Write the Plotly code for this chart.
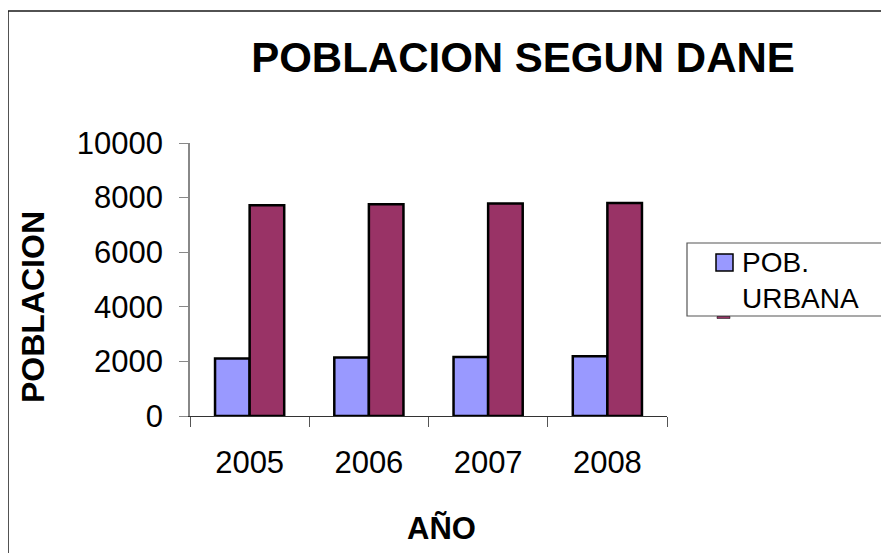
import plotly.graph_objects as go

# data
years = ["2005", "2006", "2007", "2008"]
pob_urbana = [2110, 2140, 2160, 2190]
pob_rural = [7720, 7755, 7780, 7805]
series_names = ["POB. URBANA", "POB. RURAL"]
y_ticks = [0, 2000, 4000, 6000, 8000, 10000]

BLUE = "#9999FF"
MAROON = "#993366"
FONT = "Liberation Sans, Arial, sans-serif"

W, H = 889, 553
OFF = 8  # page body margin shifts the figure by this much
# plot area in screen pixels
L, R, T, B = 190, 667, 143, 416


def px(x):
    return (x - L) / (R - L)


def py(y):
    return (B - y) / (B - T)


fig = go.Figure()
fig.add_trace(go.Bar(x=years, y=pob_urbana, name=series_names[0],
                     marker=dict(color=BLUE, line=dict(color="black", width=2.5))))
fig.add_trace(go.Bar(x=years, y=pob_rural, name=series_names[1],
                     marker=dict(color=MAROON, line=dict(color="black", width=2.5))))

fig.update_layout(
    width=W, height=H,
    margin=dict(l=L - OFF, r=W - (R - OFF), t=T - OFF, b=H - (B - OFF)),
    paper_bgcolor="white", plot_bgcolor="white",
    barmode="group", bargap=0.42, bargroupgap=0,
    showlegend=False,
    font=dict(family=FONT, color="black"),
    title=dict(text="<b>POBLACION SEGUN DANE</b>", font=dict(size=42, color="black"),
               x=(523 - OFF) / W, xanchor="center", y=1 - (57 - OFF) / H, yanchor="middle"),
)

fig.update_xaxes(
    type="category", showgrid=False, showline=True, linecolor="#333", linewidth=1.2,
    ticks="outside", tickson="boundaries", ticklen=10, tickcolor="#555",
    tickfont=dict(size=31), ticklabelstandoff=19,
)
fig.update_yaxes(
    range=[0, 10000], tickvals=y_ticks, tickformat="d", showgrid=False, zeroline=False,
    showline=True, linecolor="#888", linewidth=1.5,
    ticks="outside", ticklen=9, tickcolor="#888",
    tickfont=dict(size=31), ticklabelstandoff=10,
)

shapes = [
    # outer chart frame (runs off the right and bottom edges)
    dict(type="rect", xref="paper", yref="paper", x0=px(8), x1=px(W + 30),
         y0=py(H + 30), y1=py(11), line=dict(color="#1a1a1a", width=1.5)),
    # legend box
    dict(type="rect", xref="paper", yref="paper", x0=px(687), x1=px(887),
         y0=py(316), y1=py(243), line=dict(color="#555", width=1.2), fillcolor="white"),
    dict(type="rect", xref="paper", yref="paper", x0=px(716), x1=px(733),
         y0=py(271), y1=py(254), line=dict(color="black", width=1.5), fillcolor=BLUE),
    # clipped second legend key just below the box
    dict(type="rect", xref="paper", yref="paper", x0=px(717), x1=px(730),
         y0=py(318.5), y1=py(316.5), line=dict(color="black", width=0.5), fillcolor=MAROON),
]

annotations = [
    dict(text="<b>POBLACION</b>", textangle=-90, xref="paper", yref="paper",
         x=px(33), y=py(307), xanchor="center", yanchor="middle",
         showarrow=False, font=dict(size=32)),
    dict(text="<b>AÑO</b>", xref="paper", yref="paper",
         x=px(441), y=py(528), xanchor="center", yanchor="middle",
         showarrow=False, font=dict(size=31)),
    dict(text=series_names[0].replace(" ", "<br>"), xref="paper", yref="paper",
         x=px(740), y=py(245), xanchor="left", yanchor="top", align="left",
         showarrow=False, font=dict(size=28)),
]

fig.update_layout(shapes=shapes, annotations=annotations)

fig.write_html("out.html")
